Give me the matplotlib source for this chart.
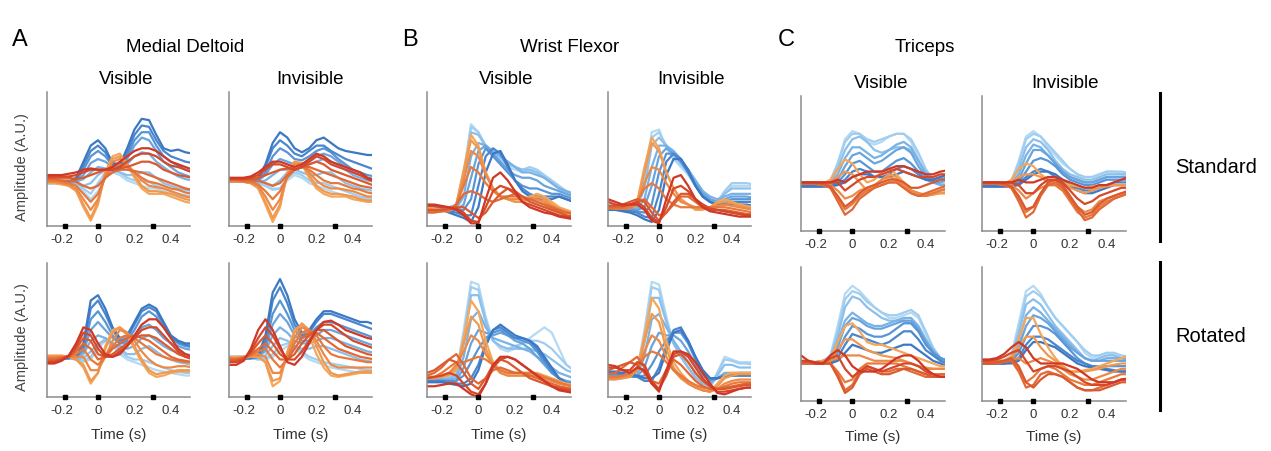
import matplotlib
matplotlib.use('Agg')
import matplotlib.pyplot as plt
import numpy as np

plt.rcParams['font.family'] = ['Liberation Sans', 'DejaVu Sans']

# time base (s) and event markers
t = [-0.28, -0.24, -0.20, -0.16, -0.12, -0.08, -0.04, 0.0, 0.04, 0.08, 0.12,
     0.16, 0.20, 0.24, 0.28, 0.32, 0.36, 0.40, 0.44, 0.48, 0.52]
events = [-0.18, 0.0, 0.30]

xticks = [-0.2, 0, 0.2, 0.4]
xticklabels = ['-0.2', '0', '0.2', '0.4']

muscles = ['Medial Deltoid', 'Wrist Flexor', 'Triceps']
letters = ['A', 'B', 'C']
conditions = ['Visible', 'Invisible']
rows = ['Standard', 'Rotated']

# 8 blue (light -> dark) then 8 orange/red (light -> dark) directions
blues = ['#b3daf4', '#a0cdf0', '#8cc0eb', '#79b2e5', '#68a4de', '#5895d6', '#4a86cd', '#3c78c4']
reds = ['#f4a65a', '#f09850', '#ec8946', '#e7793d', '#e16935', '#db592e', '#d54829', '#cf3826']

# amplitudes (A.U., 0 = axis floor, 100 = axis top)
deltoid_vis_std = [
    [33,33,33,33,31,26,20,26,36,40,38,34,32,30,28,28,26,24,23,22,21],
    [33,33,33,33,32,28,24,32,40,43,40,36,34,34,33,30,28,26,24,23,22],
    [34,34,34,33,32,30,32,38,42,42,40,38,38,40,40,36,32,30,28,27,26],
    [33,33,33,33,33,35,40,44,43,41,42,46,52,55,54,48,44,40,37,35,34],
    [32,32,32,33,34,38,47,50,48,44,44,50,60,66,64,56,48,44,40,38,36],
    [33,33,33,33,34,42,52,56,52,45,44,52,64,70,70,60,52,48,45,42,40],
    [32,32,32,33,35,45,56,60,55,46,45,55,68,75,74,64,56,52,50,48,47],
    [33,33,33,33,36,48,60,64,58,47,46,58,72,80,79,68,58,56,57,55,54],
    [32,32,31,30,26,14,4,16,40,52,54,46,36,28,24,24,24,22,20,18,17],
    [33,33,32,30,27,16,6,18,40,50,52,46,38,30,26,26,25,24,22,20,19],
    [33,33,32,31,28,20,12,20,38,48,50,46,40,34,30,29,28,26,24,22,21],
    [34,34,33,32,30,24,18,24,36,44,46,44,40,36,33,32,30,28,27,25,24],
    [35,35,34,34,33,30,28,30,36,40,42,42,41,40,38,36,34,32,30,28,27],
    [36,36,36,36,35,36,38,40,42,42,43,44,46,48,48,46,42,40,38,37,36],
    [37,37,37,37,38,40,42,42,42,42,44,48,52,54,54,52,48,45,44,42,40],
    [38,38,38,39,40,42,43,42,42,44,48,52,56,58,58,56,52,48,46,44,42],
]
deltoid_inv_std = [
    [33,33,33,33,32,30,28,28,34,38,36,32,30,28,26,24,23,22,21,20,20],
    [34,34,34,33,32,30,27,28,36,40,38,34,32,32,30,28,26,24,22,21,20],
    [34,34,34,34,33,32,30,34,40,42,40,38,38,40,40,36,32,30,28,27,26],
    [33,33,33,33,33,34,38,42,42,42,44,46,48,50,48,45,42,38,36,34,33],
    [34,34,34,34,34,38,46,50,48,46,46,48,52,54,52,48,44,40,38,36,35],
    [33,33,33,33,34,40,52,58,55,50,49,52,56,58,55,50,46,42,40,38,37],
    [33,33,33,33,35,44,58,64,60,54,52,56,60,60,56,53,50,48,46,44,42],
    [34,34,34,34,36,46,62,70,66,58,55,58,64,66,62,58,56,55,54,53,53],
    [34,34,33,32,28,16,3,14,40,48,46,36,28,24,22,22,22,20,19,18,18],
    [33,33,33,32,29,18,6,16,38,48,47,38,30,26,24,24,23,22,20,19,19],
    [34,34,33,32,30,22,12,20,38,46,46,40,34,30,28,28,27,26,24,22,22],
    [34,34,33,33,31,26,20,26,36,42,44,42,38,34,32,32,30,28,27,25,24],
    [35,35,34,34,34,32,30,32,38,42,44,44,42,40,38,36,34,32,30,29,28],
    [35,35,35,35,36,38,40,42,43,42,44,46,48,46,42,40,38,36,34,32,30],
    [35,35,35,36,38,42,46,46,44,42,44,48,52,50,46,44,42,40,38,35,33],
    [36,36,36,37,40,44,48,48,46,44,46,50,54,52,48,46,44,42,40,36,34],
]
deltoid_vis_rot = [
    [30,30,30,29,28,26,28,36,42,38,32,28,26,24,22,20,19,18,17,16,16],
    [30,30,30,29,28,27,30,38,44,40,34,30,28,28,26,24,22,20,19,18,18],
    [30,30,30,29,28,29,34,40,42,40,36,32,32,36,38,34,30,28,26,25,24],
    [29,29,29,29,29,32,42,46,44,40,38,36,38,44,46,42,38,35,33,32,31],
    [29,29,29,29,30,34,50,56,50,44,40,40,44,52,54,50,44,40,38,36,35],
    [28,28,28,29,30,36,58,64,56,46,40,42,50,60,64,60,52,44,40,38,37],
    [29,29,29,29,30,38,66,72,62,50,42,44,54,64,67,64,54,45,41,39,38],
    [29,29,29,29,30,40,72,76,66,52,44,46,56,66,69,66,56,46,42,40,40],
    [31,31,31,30,28,22,10,18,38,50,52,46,36,26,18,15,16,18,19,19,19],
    [30,30,30,30,28,24,12,18,36,48,52,48,38,28,20,17,18,19,20,20,20],
    [30,30,30,30,30,30,20,20,30,42,50,48,42,34,28,24,22,22,23,23,22],
    [29,29,30,30,32,36,28,24,30,38,44,46,44,40,36,32,30,28,27,26,26],
    [28,28,29,30,34,40,36,28,30,36,40,44,46,44,42,38,34,30,28,27,26],
    [27,27,28,30,36,44,42,32,30,32,36,40,44,46,46,44,40,36,32,30,29],
    [26,26,28,31,38,48,46,36,30,30,34,38,44,50,52,52,46,40,34,30,28],
    [25,25,27,31,40,52,50,40,32,30,32,38,46,54,58,58,52,44,36,32,30],
]
deltoid_inv_rot = [
    [30,30,30,29,28,28,30,34,38,36,32,28,26,24,22,21,20,19,18,18,18],
    [30,30,30,29,28,29,32,38,40,38,34,30,28,26,25,24,23,22,21,20,20],
    [30,30,30,29,29,31,38,44,42,38,36,36,38,38,36,34,32,30,28,27,26],
    [29,29,29,29,30,34,46,52,48,42,40,40,42,44,44,42,40,38,36,34,33],
    [29,29,29,29,30,36,54,62,56,46,42,42,46,50,50,48,46,44,42,40,38],
    [28,28,28,29,30,38,62,72,62,50,44,46,52,56,56,54,52,50,48,46,44],
    [29,29,29,29,30,42,72,82,70,54,46,48,56,62,62,60,58,56,54,52,50],
    [29,29,29,29,31,46,78,88,76,58,48,50,58,64,64,62,60,58,56,56,54],
    [30,30,30,30,30,26,8,12,34,50,54,46,32,22,16,15,16,17,18,18,18],
    [29,29,29,30,30,26,12,14,32,48,55,50,38,26,18,16,17,18,19,19,19],
    [29,29,30,31,32,30,18,18,30,44,52,50,42,32,24,22,22,22,22,22,22],
    [28,28,29,31,34,36,28,22,28,40,48,50,46,38,32,30,29,28,27,26,26],
    [28,28,29,32,36,40,34,28,28,36,44,48,48,44,40,36,34,32,30,29,28],
    [27,27,29,33,40,46,40,32,28,32,40,46,50,50,46,42,38,36,34,32,31],
    [26,26,28,34,44,52,46,36,28,28,34,42,50,54,54,50,46,42,40,38,36],
    [24,24,27,36,50,58,50,38,26,24,30,40,50,56,57,54,50,48,46,44,43],
]
flexor_vis_std = [
    [16,15,14,14,16,40,76,70,58,52,48,44,42,40,42,40,36,32,28,24,22],
    [16,15,14,14,16,38,74,70,60,54,50,46,44,42,44,42,38,34,30,26,24],
    [15,14,14,13,15,34,70,68,60,55,52,48,44,42,42,40,36,32,28,26,24],
    [14,14,13,13,13,22,52,62,60,56,52,48,44,40,40,38,36,32,28,26,24],
    [14,13,13,12,12,16,36,56,60,54,48,42,38,36,36,34,30,28,26,24,22],
    [13,13,12,12,12,12,20,46,58,52,46,40,34,30,28,28,26,24,24,22,20],
    [13,13,12,11,10,8,8,30,52,58,54,44,34,28,24,22,22,22,22,20,18],
    [12,12,12,10,8,6,3,14,40,54,56,46,34,26,22,20,20,20,22,20,18],
    [14,13,12,12,16,42,68,60,40,28,22,20,18,18,22,24,22,18,14,12,10],
    [13,12,12,12,16,40,64,58,40,28,22,20,18,18,20,22,20,16,13,11,10],
    [12,12,11,11,15,34,56,52,38,28,22,20,20,20,20,20,18,15,12,10,9],
    [11,11,11,12,16,30,44,40,32,26,22,22,22,22,20,18,16,13,11,10,9],
    [10,10,11,12,16,24,26,24,20,18,20,22,24,22,20,18,16,14,12,10,9],
    [12,12,12,13,14,14,10,6,10,18,24,28,26,22,18,16,14,12,10,8,7],
    [15,15,14,14,13,10,4,3,14,26,30,28,24,18,16,14,12,10,8,7,6],
    [16,16,15,14,12,8,2,2,20,36,40,34,26,18,14,12,10,9,7,6,5],
]
flexor_inv_std = [
    [16,16,15,14,16,36,70,72,58,50,44,38,30,22,18,16,24,30,30,30,30],
    [15,15,14,14,15,34,66,70,60,52,46,40,32,24,20,18,26,32,32,32,31],
    [15,15,14,13,14,28,60,66,60,54,48,42,34,26,20,18,24,28,28,28,28],
    [14,14,13,13,13,20,44,60,60,56,50,42,34,26,22,20,22,24,24,24,24],
    [14,13,13,12,12,14,30,52,58,54,48,40,32,24,20,18,20,22,22,22,21],
    [13,13,12,12,11,10,16,40,54,54,48,40,30,22,18,16,18,20,20,20,20],
    [13,12,12,11,10,7,6,24,48,54,50,40,30,22,18,16,17,18,18,18,18],
    [12,12,11,10,8,5,3,12,38,50,50,42,30,22,18,16,16,16,16,16,15],
    [15,15,14,14,18,44,66,58,40,28,20,16,12,12,14,18,20,18,16,15,14],
    [14,14,14,14,17,40,62,56,40,28,20,16,13,13,14,17,18,17,15,14,13],
    [14,13,13,13,16,32,44,42,32,24,18,16,14,14,14,15,16,15,14,13,12],
    [13,13,13,14,18,28,32,28,20,16,14,14,14,14,14,14,14,13,12,11,10],
    [14,14,14,16,18,20,14,8,10,16,22,22,18,14,12,12,12,11,10,9,9],
    [15,15,16,18,20,18,10,4,10,18,24,24,20,16,13,12,11,10,9,8,8],
    [18,16,15,16,18,14,6,3,14,28,30,26,20,16,13,12,11,10,9,8,8],
    [20,18,16,16,16,12,4,2,20,36,38,30,20,14,11,10,9,8,7,7,7],
]
flexor_vis_rot = [
    [14,14,14,15,18,50,86,84,60,42,36,34,36,40,44,48,52,48,36,24,20],
    [14,14,14,14,17,46,82,80,58,42,38,36,38,40,42,42,40,36,30,24,20],
    [13,13,13,14,16,40,76,76,56,42,38,36,36,36,36,34,32,28,24,20,18],
    [13,13,13,13,14,30,58,64,52,44,42,40,38,36,34,30,26,22,18,16,14],
    [12,12,12,12,12,22,40,50,48,46,48,46,42,40,36,30,24,18,14,12,11],
    [12,12,12,12,12,16,26,36,44,48,50,46,44,42,40,34,26,18,14,11,10],
    [12,12,12,11,10,10,14,24,40,50,52,48,44,44,42,36,28,20,14,10,9],
    [11,11,11,10,9,8,10,20,38,50,54,50,46,44,42,38,30,22,14,10,8],
    [14,14,15,16,20,44,72,64,42,26,20,18,18,18,18,18,16,14,12,10,9],
    [14,14,15,17,22,40,60,54,36,24,18,16,16,16,16,16,14,12,10,9,8],
    [15,15,16,18,24,34,46,42,32,24,18,16,16,16,16,16,14,12,10,9,8],
    [15,15,18,22,26,26,28,30,28,24,20,18,18,18,18,17,15,13,11,9,8],
    [16,18,22,28,32,24,14,10,14,20,22,20,18,18,16,14,12,10,8,7,6],
    [18,20,24,28,26,18,10,6,14,24,28,26,22,18,14,12,10,8,7,6,5],
    [14,15,16,18,16,10,4,2,10,22,28,30,28,24,20,16,12,8,6,5,4],
    [8,8,9,10,10,6,2,0,10,24,30,30,28,24,20,16,12,8,5,4,3],
]
flexor_inv_rot = [
    [18,18,17,17,20,50,86,84,60,40,30,22,14,8,6,18,30,28,26,26,26],
    [18,17,17,16,19,46,82,80,58,40,30,22,14,9,8,18,28,27,25,25,24],
    [17,17,16,16,18,40,74,74,56,40,30,22,15,10,9,16,24,24,22,22,22],
    [16,16,16,15,16,30,58,62,52,42,34,26,18,12,10,14,18,18,18,18,18],
    [16,16,15,15,15,22,38,48,46,46,42,34,24,16,12,14,16,16,16,16,16],
    [17,17,16,16,15,16,24,34,42,48,48,40,28,18,13,14,16,16,17,17,17],
    [18,18,17,16,15,12,12,22,38,50,52,42,30,20,14,14,16,17,18,18,18],
    [19,19,18,17,16,14,14,18,34,48,50,42,30,20,14,14,15,16,16,16,16],
    [14,14,14,15,20,46,74,66,42,26,18,12,8,5,4,10,16,18,18,18,18],
    [13,13,14,15,20,42,62,56,36,22,15,10,7,5,4,8,14,16,17,17,17],
    [14,14,15,16,20,34,46,42,30,20,14,10,7,5,4,6,10,12,13,13,13],
    [15,15,16,18,22,30,34,32,26,20,16,12,9,7,6,6,8,10,11,11,11],
    [17,18,22,26,30,22,12,10,20,28,24,18,12,8,6,6,7,8,9,10,10],
    [20,22,24,26,24,18,10,6,16,30,32,26,18,12,8,6,6,7,8,9,9],
    [22,22,20,20,26,24,12,6,18,32,34,30,22,14,8,4,4,5,6,7,7],
    [24,23,20,18,22,20,10,4,20,34,34,32,26,18,10,3,2,4,6,7,7],
]
triceps_vis_std = [
    [35,35,35,35,37,50,68,74,72,66,64,66,70,72,72,66,54,42,36,34,34],
    [35,35,35,35,37,50,66,72,72,68,66,68,70,72,72,68,58,46,38,35,35],
    [34,34,34,35,36,46,60,68,70,66,60,58,60,62,62,60,52,44,38,34,33],
    [34,34,34,34,35,42,54,62,62,58,54,56,60,64,66,62,52,42,36,34,34],
    [34,34,34,34,34,38,48,56,58,54,50,52,56,60,62,58,48,40,36,36,38],
    [33,33,33,33,34,36,42,50,52,48,44,44,48,52,54,50,44,38,36,38,40],
    [33,33,33,33,33,35,38,44,46,44,40,40,42,46,48,46,42,38,38,40,42],
    [33,33,33,33,33,34,36,40,42,42,40,40,40,42,44,42,40,38,38,40,42],
    [35,35,35,35,38,46,53,50,42,36,38,44,46,42,36,30,28,26,27,28,28],
    [35,35,35,35,36,40,44,42,36,30,32,38,42,40,34,30,28,26,27,28,28],
    [35,35,35,34,34,30,24,26,30,32,34,38,40,38,34,30,28,27,28,30,30],
    [35,35,35,34,32,24,16,20,26,30,32,34,36,36,32,28,26,26,28,30,32],
    [35,35,35,34,32,22,12,16,24,28,32,34,36,36,32,28,26,28,30,32,34],
    [36,36,36,35,33,26,18,22,28,32,34,36,38,38,36,32,32,34,36,38,38],
    [36,36,36,36,36,36,30,34,38,40,40,42,44,46,44,42,40,40,40,42,42],
    [36,36,36,36,36,38,36,40,42,44,44,44,46,48,48,46,44,42,42,44,45],
]
triceps_inv_std = [
    [35,35,35,35,37,52,70,74,70,62,56,50,46,42,40,40,42,44,44,42,42],
    [35,35,35,35,37,50,68,72,70,64,58,52,46,42,40,40,42,44,44,44,43],
    [34,34,34,34,36,46,62,68,66,60,52,46,42,40,38,38,40,42,42,42,42],
    [34,34,34,34,35,42,56,64,62,56,50,44,40,38,36,36,38,40,40,40,40],
    [34,34,34,34,34,38,50,60,60,56,50,44,40,38,36,36,38,40,40,40,40],
    [33,33,33,33,34,36,44,52,54,52,48,42,38,36,34,34,36,38,38,38,38],
    [33,33,33,33,33,35,40,44,46,44,40,36,34,32,30,30,32,34,36,36,36],
    [33,33,33,33,33,34,38,42,44,44,42,38,34,30,28,28,30,32,34,34,34],
    [35,35,35,35,38,46,50,48,42,38,36,36,34,33,32,33,34,34,34,34,34],
    [35,35,35,35,36,40,42,42,40,36,34,34,32,30,28,30,32,33,34,34,34],
    [35,35,35,34,34,30,24,28,32,34,34,30,24,18,14,16,22,24,26,28,28],
    [35,35,35,34,32,24,14,18,28,34,34,30,22,14,10,12,18,22,24,26,28],
    [35,35,35,34,32,22,10,14,26,34,36,32,24,16,8,10,16,20,24,26,28],
    [36,36,36,35,33,26,16,18,28,36,38,34,26,18,12,14,20,24,26,28,30],
    [36,36,36,36,36,34,28,28,34,38,38,36,30,24,20,22,26,28,30,32,32],
    [36,36,36,36,36,38,36,36,38,40,40,38,36,34,32,32,34,34,36,38,40],
]
triceps_vis_rot = [
    [29,29,29,30,34,56,80,86,82,76,70,66,62,62,64,66,62,50,38,30,28],
    [29,29,29,30,33,52,76,82,80,74,70,66,64,64,66,68,64,52,40,32,30],
    [29,29,29,30,32,48,70,78,76,70,66,62,60,60,60,58,52,44,36,30,28],
    [28,28,28,29,31,44,60,66,62,58,56,56,58,60,62,62,56,46,38,32,30],
    [28,28,28,29,30,40,56,62,60,56,54,54,56,58,60,60,54,44,36,32,30],
    [28,28,28,28,29,36,48,56,54,50,48,48,50,54,58,58,52,42,36,32,30],
    [28,28,28,28,29,32,42,50,48,46,44,42,44,48,52,52,46,38,34,30,28],
    [28,28,28,28,28,30,36,42,40,38,36,36,38,40,42,42,38,34,30,28,26],
    [29,29,29,30,32,44,56,58,52,44,42,42,40,38,36,34,32,30,28,26,26],
    [29,29,29,30,31,38,46,46,42,38,36,34,33,32,30,28,26,25,24,24,24],
    [29,29,29,29,30,32,34,34,34,32,30,30,30,30,30,28,26,24,24,24,24],
    [28,28,28,28,28,22,14,16,24,28,28,28,28,28,26,24,22,20,20,20,20],
    [28,28,28,28,28,20,8,12,22,26,24,22,22,24,24,22,20,18,18,20,20],
    [29,29,29,28,28,18,6,10,20,24,22,20,20,22,24,24,22,20,18,18,18],
    [30,30,29,28,32,34,24,18,22,26,24,22,24,26,28,28,26,22,20,18,18],
    [34,30,28,28,34,38,34,26,22,22,22,24,28,32,34,34,30,24,20,18,18],
]
triceps_inv_rot = [
    [30,30,30,30,34,58,82,86,80,70,62,56,50,44,36,32,34,36,34,32,31],
    [30,30,30,30,33,54,78,82,78,70,62,56,50,44,38,34,34,36,36,34,33],
    [29,29,29,30,32,50,72,76,72,64,56,50,44,38,32,30,32,34,34,32,31],
    [29,29,29,29,31,44,64,70,66,60,54,48,42,36,32,30,30,32,32,32,31],
    [29,29,29,29,30,40,56,64,62,58,52,46,40,36,32,30,30,30,30,30,30],
    [28,28,28,28,29,36,48,56,56,54,50,44,38,32,28,26,26,26,26,26,26],
    [28,28,28,28,29,32,42,48,48,46,42,38,34,30,28,26,25,24,23,22,22],
    [28,28,28,28,28,30,38,44,44,42,40,36,32,28,26,25,24,23,22,22,22],
    [30,30,30,30,33,46,62,62,50,40,32,26,22,22,23,24,26,28,30,32,34],
    [30,30,30,30,32,40,48,48,40,34,30,26,22,22,22,23,24,26,27,28,28],
    [29,29,29,30,31,32,28,30,32,30,28,24,20,18,16,16,18,20,22,24,24],
    [29,29,29,30,31,24,14,18,24,26,24,20,16,14,12,12,14,16,18,20,20],
    [28,28,28,29,30,22,10,12,20,22,20,18,14,10,8,8,10,12,14,16,16],
    [28,28,29,30,32,26,14,10,16,20,20,18,14,10,8,8,8,10,12,14,14],
    [30,30,31,33,36,38,30,22,24,26,26,24,22,18,14,12,12,12,14,16,16],
    [31,31,32,35,40,44,40,32,28,28,28,28,26,24,20,16,14,14,14,16,17],
]

W, H = 1271, 451
fig = plt.figure(figsize=(W / 100, H / 100), dpi=100)


def rect(l, r, top, bot):
    return [l / W, 1 - bot / H, (r - l) / W, (bot - top) / H]


def fy(p):
    return 1 - p / H


# panel pixel boxes: (data, left, right, top, bottom)
panels = [
    (deltoid_vis_std, 47, 190, 92, 226), (deltoid_inv_std, 229, 372, 92, 226),
    (flexor_vis_std, 427, 571, 92, 226), (flexor_inv_std, 608, 751, 92, 226),
    (triceps_vis_std, 801, 945, 96, 231), (triceps_inv_std, 982, 1126, 96, 231),
    (deltoid_vis_rot, 47, 190, 263, 397), (deltoid_inv_rot, 229, 372, 263, 397),
    (flexor_vis_rot, 427, 571, 263, 397), (flexor_inv_rot, 608, 751, 263, 397),
    (triceps_vis_rot, 801, 945, 267, 401), (triceps_inv_rot, 982, 1126, 267, 401),
]
colors = blues + reds

for k, (data, l, r, top, bot) in enumerate(panels):
    ax = fig.add_axes(rect(l, r, top, bot))
    for vals, c in zip(data, colors):
        ax.plot(t, vals, color=c, lw=1.6, solid_capstyle='round',
                solid_joinstyle='round')
    ax.plot(events, [0] * len(events), 's', color='black', ms=3.5,
            transform=ax.get_xaxis_transform(), clip_on=False, zorder=10)
    ax.set_xlim(-0.28, 0.505)
    ax.set_ylim(0, 100)
    ax.set_xticks(xticks)
    ax.set_xticklabels(xticklabels)
    ax.set_yticks([])
    ax.tick_params(axis='x', length=0, pad=6, labelsize=9.5, labelcolor='#333333')
    for s in ['top', 'right']:
        ax.spines[s].set_visible(False)
    for s in ['left', 'bottom']:
        ax.spines[s].set_color('#8c8c8c')
        ax.spines[s].set_linewidth(1.1)
    ax.set_facecolor('none')
    if k >= 6:
        ty = 437 if k >= 10 else 435
        fig.text((l + r) / 2 / W, fy(ty), 'Time (s)', ha='center', va='center',
                 fontsize=11, color='#333333')

# y labels on the left of panel A
for yc in (167, 337):
    fig.text(22 / W, fy(yc), 'Amplitude (A.U.)', rotation=90, ha='center',
             va='center', fontsize=10.5, color='#444444')

# column and group titles
col_x = [(126, 310), (506, 691), (881, 1065)]
col_y = [80, 80, 84]
group_x = [185, 570, 925]
letter_x = [20, 410, 786]
for g in range(3):
    fig.text(group_x[g] / W, fy(47), muscles[g], ha='center', va='center', fontsize=13.5)
    fig.text(letter_x[g] / W, fy(40), letters[g], ha='center', va='center', fontsize=17)
    for c in range(2):
        fig.text(col_x[g][c] / W, fy(col_y[g]), conditions[c], ha='center',
                 va='center', fontsize=13.5)

# row brackets on the right
row_spans = [(93, 241), (262, 410)]
for name, (y0, y1) in zip(rows, row_spans):
    fig.add_artist(plt.Line2D([1160 / W, 1160 / W], [fy(y0), fy(y1)],
                              color='black', lw=2.2, transform=fig.transFigure))
    fig.text(1175 / W, fy((y0 + y1) / 2), name, ha='left', va='center', fontsize=14.5)

fig.savefig('out.png', dpi=100)
